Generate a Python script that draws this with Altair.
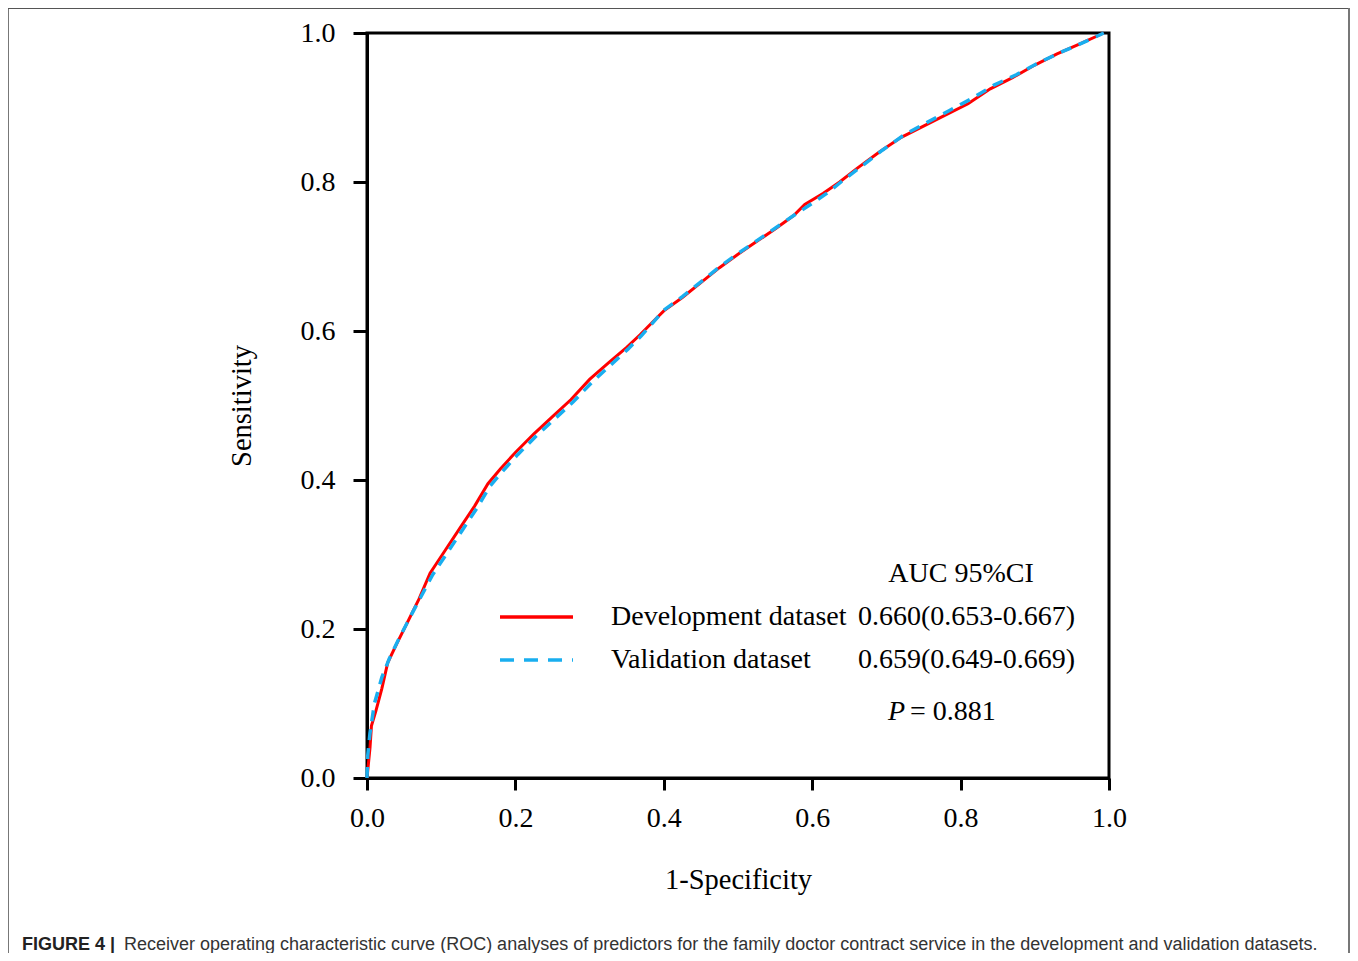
import altair as alt
import pandas as pd

# ROC curve points
dev_fpr = [0.0, 0.004, 0.006, 0.012, 0.02, 0.028, 0.04, 0.055, 0.07, 0.085, 0.105, 0.125,
           0.145, 0.163, 0.18, 0.2, 0.225, 0.25, 0.275, 0.30, 0.325, 0.35, 0.368, 0.385,
           0.40, 0.425, 0.45, 0.475, 0.50, 0.525, 0.55, 0.575, 0.59, 0.615, 0.637, 0.66,
           0.69, 0.72, 0.75, 0.78, 0.81, 0.84, 0.87, 0.90, 0.93, 0.96, 0.993]
dev_tpr = [0.0, 0.04, 0.07, 0.09, 0.12, 0.155, 0.18, 0.21, 0.24, 0.275, 0.305, 0.335,
           0.365, 0.395, 0.415, 0.437, 0.462, 0.485, 0.508, 0.535, 0.557, 0.578, 0.595, 0.612,
           0.627, 0.645, 0.665, 0.685, 0.703, 0.72, 0.737, 0.755, 0.77, 0.785, 0.80, 0.818,
           0.84, 0.86, 0.875, 0.89, 0.905, 0.925, 0.94, 0.957, 0.972, 0.985, 1.0]

val_fpr = [0.0, 0.001, 0.004, 0.01, 0.02, 0.03, 0.042, 0.056, 0.072, 0.088, 0.108, 0.128,
           0.148, 0.166, 0.183, 0.203, 0.228, 0.253, 0.278, 0.303, 0.328, 0.352, 0.37, 0.386,
           0.40, 0.425, 0.45, 0.475, 0.50, 0.525, 0.55, 0.575, 0.595, 0.62, 0.64, 0.665,
           0.695, 0.725, 0.755, 0.785, 0.815, 0.845, 0.875, 0.905, 0.935, 0.965, 0.993]
val_tpr = [0.0, 0.03, 0.06, 0.1, 0.135, 0.16, 0.185, 0.212, 0.242, 0.272, 0.302, 0.332,
           0.362, 0.392, 0.412, 0.434, 0.459, 0.482, 0.505, 0.531, 0.554, 0.576, 0.594, 0.612,
           0.628, 0.646, 0.666, 0.686, 0.704, 0.721, 0.738, 0.755, 0.768, 0.785, 0.801, 0.82,
           0.843, 0.864, 0.88, 0.896, 0.912, 0.93, 0.944, 0.96, 0.974, 0.987, 1.0]

series_names = ["Development dataset", "Validation dataset"]
auc_labels = ["0.660(0.653-0.667)", "0.659(0.649-0.669)"]
header_text = "AUC 95%CI"
p_value_text = "= 0.881"
caption_bold = "FIGURE 4 |"
caption_text = ("Receiver operating characteristic curve (ROC) analyses of predictors for the "
                "family doctor contract service in the development and validation datasets.")

dev = pd.DataFrame({"fpr": dev_fpr, "tpr": dev_tpr, "order": range(len(dev_fpr))})
val = pd.DataFrame({"fpr": val_fpr, "tpr": val_tpr, "order": range(len(val_fpr))})

SERIF = "Liberation Serif"
SANS = "Liberation Sans"
RED = "#ff0000"
BLUE = "#19aeef"

W, H = 742, 745

xs = alt.Scale(domain=[0, 1], nice=False, zero=False)
ys = alt.Scale(domain=[0, 1], nice=False, zero=False)
tick_vals = [0, 0.2, 0.4, 0.6, 0.8, 1.0]

x_axis = alt.Axis(values=tick_vals, format=".1f", title="1-Specificity", grid=False,
                  tickSize=12, labelPadding=14, titlePadding=33, labelFlush=False)
y_axis = alt.Axis(values=tick_vals, format=".1f", title="Sensitivity", grid=False,
                  tickSize=14, labelPadding=18, titlePadding=44, labelFlush=False)

dev_line = alt.Chart(dev).mark_line(color=RED, strokeWidth=3).encode(
    x=alt.X("fpr:Q", scale=xs, axis=x_axis),
    y=alt.Y("tpr:Q", scale=ys, axis=y_axis),
    order="order:Q",
)
val_line = alt.Chart(val).mark_line(color=BLUE, strokeWidth=3.5, strokeDash=[11, 8]).encode(
    x=alt.X("fpr:Q", scale=xs),
    y=alt.Y("tpr:Q", scale=ys),
    order="order:Q",
)

one = pd.DataFrame({"k": [0]})
base = alt.Chart(one)

leg_red = base.mark_rule(color=RED, strokeWidth=3.5).encode(
    x=alt.value(133), x2=alt.value(206), y=alt.value(584))
leg_blue = base.mark_rule(color=BLUE, strokeWidth=3.5, strokeDash=[14, 10]).encode(
    x=alt.value(133), x2=alt.value(206), y=alt.value(627))

def txt(s, x, y, align="left", font=SERIF, size=28, style="normal", weight="normal", color="black"):
    return base.mark_text(text=s, font=font, fontSize=size, fontStyle=style, fontWeight=weight,
                          align=align, baseline="middle", color=color).encode(
        x=alt.value(x), y=alt.value(y))

texts = [
    txt(header_text, 594, 541, align="center"),
    txt(series_names[0], 244, 584),
    txt(auc_labels[0], 491, 584),
    txt(series_names[1], 244, 627),
    txt(auc_labels[1], 491, 627),
    txt("P", 521, 679, style="italic"),
    txt(p_value_text, 543, 679),
    txt(caption_bold, -345, 912, font=SANS, size=18, weight="bold", color="#222222"),
    txt(caption_text, -243, 912, font=SANS, size=18, color="#333333"),
]

border_l = base.mark_rule(color="#777777", strokeWidth=2).encode(
    x=alt.value(-359), y=alt.value(-25), y2=alt.value(940))
border_t = base.mark_rule(color="#555555", strokeWidth=2).encode(
    x=alt.value(-359), x2=alt.value(982), y=alt.value(-25))
border_r = base.mark_rule(color="#777777", strokeWidth=2).encode(
    x=alt.value(982), y=alt.value(-25), y2=alt.value(940))

chart = alt.layer(
    dev_line, val_line, leg_red, leg_blue, *texts, border_l, border_t, border_r
).properties(
    width=W, height=H,
    autosize=alt.AutoSizeParams(type="none"),
    padding={"left": 359, "top": 25, "right": 241, "bottom": 175},
    background="white",
).configure_view(
    stroke="black", strokeWidth=3
).configure_axis(
    domainColor="black", domainWidth=3, tickColor="black", tickWidth=3,
    labelFont=SERIF, labelFontSize=28, labelColor="black",
    titleFont=SERIF, titleFontSize=28.5, titleFontWeight="normal", titleColor="black",
)

chart.save("out.html", embed_options={"renderer": "svg", "actions": False})
